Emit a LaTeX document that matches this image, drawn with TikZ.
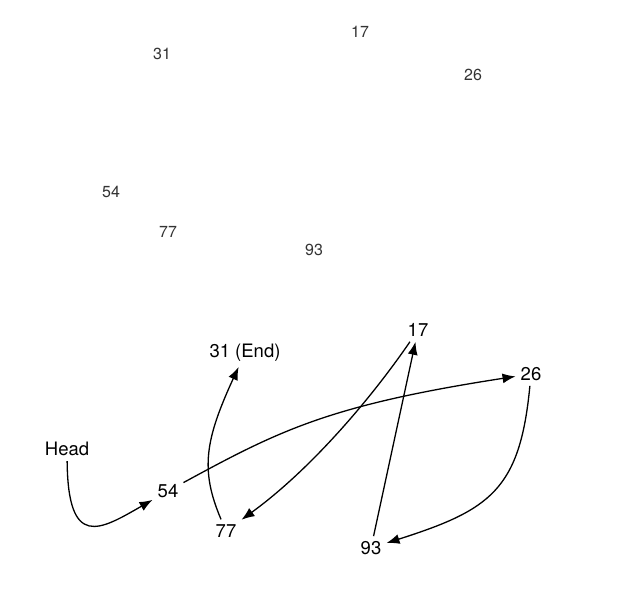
\documentclass[tikz,border=0pt]{standalone}
\usepackage{fontspec}
\setmainfont{TeX Gyre Heros}
\usetikzlibrary{arrows.meta}
\begin{document}
\begin{tikzpicture}[x=1pt,y=-1pt,
  toplbl/.style={font=\fontsize{16}{18}\selectfont, text=black!80, inner sep=0pt},
  lbl/.style={font=\fontsize{18.5}{20}\selectfont, inner sep=5pt},
  link/.style={line width=1.3pt, -{Latex[length=13pt,width=10pt]}}]
\path[use as bounding box, fill=white] (0,0) rectangle (617,611);
% top scattered values
\node[toplbl] (t17) at (360,32) {17};
\node[toplbl] (t31) at (162,54) {31};
\node[toplbl] (t26) at (473,75) {26};
\node[toplbl] (t54) at (111,192) {54};
\node[toplbl] (t77) at (168,232) {77};
\node[toplbl] (t93) at (314,250) {93};
% linked list
\node[lbl] (head) at (67,449) {Head};
\node[lbl] (n54) at (168,491) {54};
\node[lbl] (n31) at (245,353) {31 (End)};
\node[lbl] (n17) at (418,330) {17};
\node[lbl] (n26) at (531,374) {26};
\node[lbl] (n77) at (226,531) {77};
\node[lbl] (n93) at (371,548) {93};
\draw[link] (head) .. controls (68,550) and (100,530) .. (n54);
\draw[link] (n54) .. controls (280,430) and (330,405) .. (n26);
\draw[link] (n26) .. controls (520,490) and (490,510) .. (n93);
\draw[link] (n93) -- (n17);
\draw[link] (n17) .. controls (370,400) and (310,470) .. (n77);
\draw[link] (n77) .. controls (200,470) and (205,440) .. (n31);
\end{tikzpicture}
\end{document}
